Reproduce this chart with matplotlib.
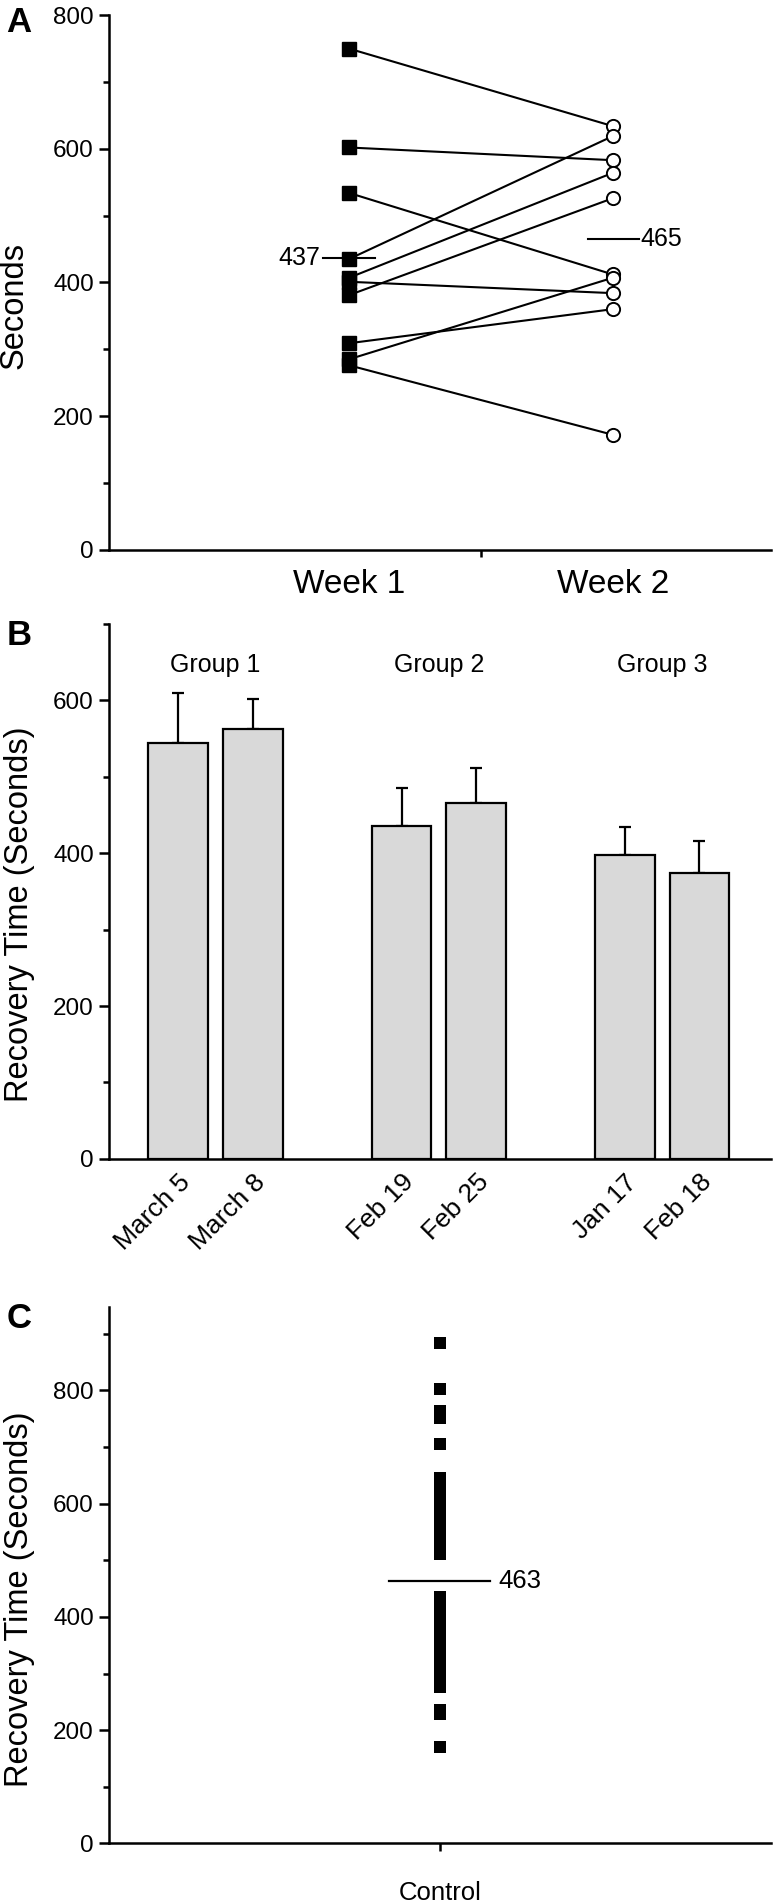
import matplotlib
matplotlib.use("Agg")
import matplotlib.pyplot as plt
from matplotlib.ticker import MultipleLocator, FixedLocator

plt.rcParams['font.family'] = ['Liberation Sans', 'DejaVu Sans']

# ---- Panel A: paired values, week 1 -> week 2
week_labels = ['Week 1', 'Week 2']
week1 = [750, 602, 534, 435, 407, 401, 381, 309, 285, 276]
week2 = [634, 583, 412, 619, 564, 384, 526, 360, 407, 172]
mean_week1 = 437
mean_week2 = 465

# ---- Panel B: bar means with upper SD
date_labels = ['March 5', 'March 8', 'Feb 19', 'Feb 25', 'Jan 17', 'Feb 18']
group_labels = ['Group 1', 'Group 2', 'Group 3']
bar_means = [544, 562, 436, 466, 398, 374]
bar_err = [66, 40, 49, 45, 36, 42]
bar_pos = [0, 1, 3, 4, 6, 7]

# ---- Panel C: control recovery times
control_times = [884, 803, 764, 751, 705,
                 646, 637, 628, 620, 612, 603, 597, 588, 580, 572, 563, 556,
                 549, 541, 530, 522, 511,
                 435, 428, 420, 413, 405, 396, 388, 380, 371, 362, 355, 347,
                 338, 331, 320, 312, 303, 295, 284, 276,
                 236, 228, 171]
control_mean = 463

fig = plt.figure(figsize=(7.76, 19.02), dpi=100)
L, W = 0.1405, 0.853
axA = fig.add_axes([L, 0.7110, W, 0.2810])
axB = fig.add_axes([L, 0.3907, W, 0.2812])
axC = fig.add_axes([L, 0.0308, W, 0.2822])

TICK = 17.5
for ax in (axA, axB, axC):
    for s in ('top', 'right'):
        ax.spines[s].set_visible(False)
    for s in ('left', 'bottom'):
        ax.spines[s].set_linewidth(1.8)
    ax.tick_params(axis='y', which='major', length=7, width=1.8, labelsize=TICK, pad=4)
    ax.tick_params(axis='y', which='minor', length=4, width=1.8)

# Panel A
for a, b in zip(week1, week2):
    axA.plot([1, 2], [a, b], color='black', lw=1.5, zorder=2)
axA.plot([1] * len(week1), week1, 's', color='black', ms=10, zorder=3)
axA.plot([2] * len(week2), week2, 'o', mfc='white', mec='black', mew=1.4, ms=9.5, zorder=3)
axA.plot([0.9, 1.1], [mean_week1, mean_week1], color='black', lw=1.5)
axA.text(0.89, mean_week1, str(mean_week1), ha='right', va='center', fontsize=18)
axA.plot([1.905, 2.1], [mean_week2, mean_week2], color='black', lw=1.5)
axA.text(2.105, mean_week2, str(mean_week2), ha='left', va='center', fontsize=18)
axA.set_xlim(0.09, 2.6)
axA.set_ylim(0, 800)
axA.yaxis.set_major_locator(MultipleLocator(200))
axA.yaxis.set_minor_locator(MultipleLocator(100))
axA.set_xticks([1, 2])
axA.set_xticklabels(week_labels)
axA.xaxis.set_minor_locator(FixedLocator([1.5]))
axA.tick_params(axis='x', which='major', length=0, labelsize=24, pad=14)
axA.tick_params(axis='x', which='minor', length=5, width=1.8)
axA.set_ylabel('Seconds', fontsize=23.5)
axA.yaxis.set_label_coords(-0.12, 0.457)

# Panel B
axB.bar(bar_pos, bar_means, width=0.8, color='#d9d9d9', edgecolor='black', lw=1.6, zorder=2)
axB.errorbar(bar_pos, bar_means, yerr=[[0] * len(bar_err), bar_err], fmt='none',
             ecolor='black', elinewidth=1.6, capsize=4.3, capthick=1.6, zorder=1)
for i, g in enumerate(group_labels):
    xc = (bar_pos[2 * i] + bar_pos[2 * i + 1]) / 2
    axB.text(xc, 646, g, ha='center', va='center', fontsize=18)
axB.set_xlim(-0.93, 7.96)
axB.set_ylim(0, 700)
axB.yaxis.set_major_locator(MultipleLocator(200))
axB.yaxis.set_minor_locator(MultipleLocator(100))
axB.set_xticks(bar_pos)
axB.set_xticklabels(date_labels, rotation=45, ha='right', va='top', rotation_mode='anchor')
axB.tick_params(axis='x', length=0, labelsize=19, pad=8)
axB.set_ylabel('Recovery Time (Seconds)', fontsize=23.5)
axB.yaxis.set_label_coords(-0.112, 0.457)

# Panel C
axC.plot([1] * len(control_times), control_times, 's', color='black', ms=9, mew=0, zorder=3)
axC.plot([0.923, 1.075], [control_mean, control_mean], color='black', lw=1.6)
axC.text(1.088, control_mean, str(control_mean), ha='left', va='center', fontsize=18.5)
axC.set_xlim(0.5, 1.5)
axC.set_ylim(0, 948)
axC.yaxis.set_major_locator(MultipleLocator(200))
axC.yaxis.set_minor_locator(MultipleLocator(100))
axC.set_xticks([1])
axC.set_xticklabels(['Control'])
axC.tick_params(axis='x', length=6, width=1.8, labelsize=18.5, pad=21)
axC.set_ylabel('Recovery Time (Seconds)', fontsize=23.5)
axC.yaxis.set_label_coords(-0.112, 0.455)

# panel letters
for letter, y in (('A', 22), ('B', 636), ('C', 1318)):
    fig.text(19 / 776, 1 - y / 1902, letter, fontsize=25, fontweight='bold',
             ha='center', va='center')

fig.savefig('out.png', dpi=100)
